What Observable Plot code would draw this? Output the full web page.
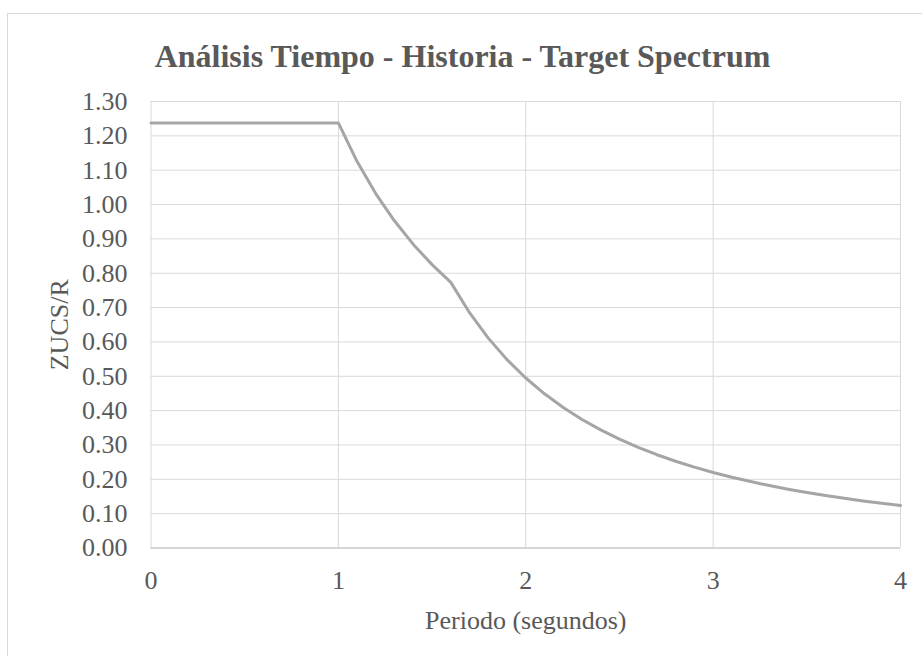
<!DOCTYPE html>
<html><head><meta charset="utf-8">
<script src="https://cdn.jsdelivr.net/npm/d3@7"></script>
<script src="https://cdn.jsdelivr.net/npm/@observablehq/plot@0.6"></script>
<style>
body{margin:0;background:#fff;width:922px;height:656px;overflow:hidden;position:relative;font-family:"Liberation Serif","Times New Roman",serif;}
#frame{position:absolute;left:7px;top:13px;width:930px;height:660px;border-left:1px solid #d9d9d9;border-top:1px solid #d9d9d9;box-sizing:border-box;pointer-events:none;}
#title{height:90px;box-sizing:border-box;padding-top:39px;text-align:center;font-weight:bold;font-size:32px;line-height:34px;color:#595959;padding-left:3px;white-space:nowrap;}
svg text{font-family:"Liberation Serif","Times New Roman",serif;}
</style></head>
<body>
<div id="frame"></div>
<div id="title">Análisis Tiempo - Historia - Target Spectrum</div>
<div id="chart"></div>
<script>
const periods = [0, 0.5, 1.0, 1.1, 1.2, 1.3, 1.4, 1.5, 1.6, 1.7, 1.8, 1.9, 2.0, 2.1, 2.2, 2.3, 2.4, 2.5, 2.6, 2.7, 2.8, 2.9, 3.0, 3.1, 3.2, 3.3, 3.4, 3.5, 3.6, 3.7, 3.8, 3.9, 4.0];
const zucsr = [1.2375, 1.2375, 1.2375, 1.125, 1.0313, 0.9519, 0.8839, 0.825, 0.7734, 0.6851, 0.6111, 0.5485, 0.495, 0.449, 0.4091, 0.3743, 0.3438, 0.3168, 0.2929, 0.2716, 0.2526, 0.2354, 0.22, 0.206, 0.1934, 0.1818, 0.1713, 0.1616, 0.1528, 0.1446, 0.1371, 0.1302, 0.1238];
const xTicks = [0, 1, 2, 3, 4];
const yTicks = [0, 0.1, 0.2, 0.3, 0.4, 0.5, 0.6, 0.7, 0.8, 0.9, 1.0, 1.1, 1.2, 1.3];
const xLabel = "Periodo (segundos)";
const yLabel = "ZUCS/R";

const data = periods.map((p, i) => ({p, v: zucsr[i]}));
const txt = "#595959";
const serif = '"Liberation Serif","Times New Roman",serif';

const chart = Plot.plot({
  width: 922,
  height: 566,
  marginTop: 11,
  marginBottom: 108.5,
  marginLeft: 150.5,
  marginRight: 22,
  style: {fontFamily: serif, background: "transparent", overflow: "visible"},
  x: {domain: [0, 4]},
  y: {domain: [0, 1.3]},
  marks: [
    Plot.gridY(yTicks, {stroke: "#d9d9d9", strokeOpacity: 1, strokeWidth: 1}),
    Plot.gridX(xTicks, {stroke: "#d9d9d9", strokeOpacity: 1, strokeWidth: 1}),
    Plot.ruleY([0], {stroke: "#bfbfbf", strokeWidth: 1.2}),
    Plot.axisY(yTicks, {tickSize: 0, tickPadding: 23.5, tickFormat: d3.format(".2f"), fontSize: 26, color: txt, label: null}),
    Plot.axisX(xTicks, {tickSize: 0, tickPadding: 23, tickFormat: d3.format("d"), fontSize: 26, color: txt, label: null}),
    Plot.line(data, {x: "p", y: "v", stroke: "#a5a5a5", strokeWidth: 3}),
    Plot.text([xLabel], {frameAnchor: "bottom", lineAnchor: "middle", textAnchor: "middle", dy: 73, fontSize: 26, fill: txt, text: d => d}),
    Plot.text([yLabel], {frameAnchor: "left", lineAnchor: "middle", textAnchor: "middle", dx: -91, rotate: -90, fontSize: 26, fill: txt, text: d => d})
  ]
});
document.getElementById("chart").appendChild(chart);
</script>
</body></html>
